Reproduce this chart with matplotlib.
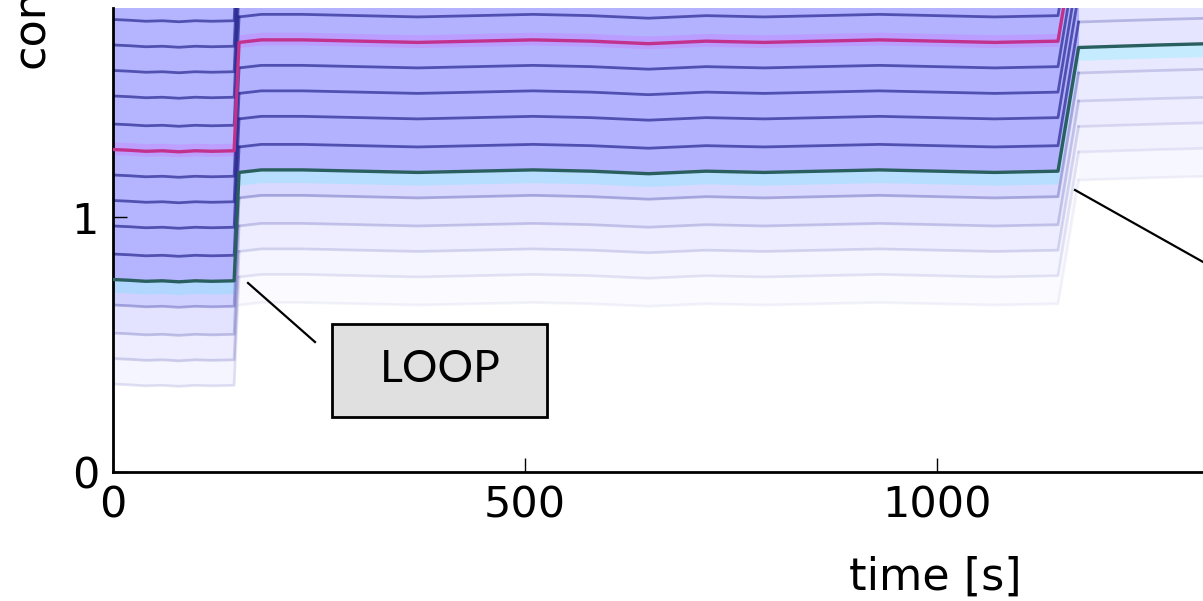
import matplotlib
matplotlib.use("Agg")
import matplotlib.pyplot as plt
from matplotlib.lines import Line2D
from matplotlib.patches import Rectangle
import numpy as np

# time samples [s]
time = [0, 20, 40, 60, 80, 100, 120, 147,
        153, 180, 230, 300, 370, 440, 510, 580, 650, 720, 790, 860, 930, 1000, 1070, 1147,
        1172, 1220, 1270, 1330, 1400]
# highlighted teal trajectory
teal = [0.755, 0.752, 0.748, 0.750, 0.746, 0.750, 0.748, 0.750,
        1.175, 1.185, 1.185, 1.180, 1.175, 1.180, 1.185, 1.180, 1.170, 1.180, 1.175, 1.180, 1.185, 1.180, 1.175, 1.180,
        1.665, 1.670, 1.675, 1.680, 1.680]
# quantile lines relative to the teal one
offsets = [-0.52, -0.41, -0.31, -0.21, -0.10, 0.0, 0.10, 0.21, 0.31, 0.41,
           0.51, 0.61, 0.72, 0.82, 0.92, 1.02, 1.13]
magenta_idx = 10
# segments (index ranges into time) and band / line opacity per segment
segments = [(0, 9), (8, 25), (24, 29)]
band_alpha = [
    [0.0, 0.04, 0.07, 0.11, 0.18, 0.29, 0.29, 0.29, 0.29, 0.29, 0.29, 0.29, 0.29, 0.29, 0.29, 0.29],
    [0.02, 0.04, 0.07, 0.10, 0.15, 0.30, 0.30, 0.30, 0.30, 0.30, 0.30, 0.30, 0.30, 0.30, 0.30, 0.30],
    [0.03, 0.05, 0.07, 0.08, 0.09, 0.10, 0.10, 0.10, 0.10, 0.10, 0.10, 0.10, 0.10, 0.10, 0.10, 0.10],
]
line_alpha = [
    [0.0, 0.12, 0.18, 0.22, 0.3, 1, 0.7, 0.7, 0.7, 0.7, 1, 0.7, 0.7, 0.7, 0.7, 0.7, 0.7],
    [0.05, 0.1, 0.15, 0.2, 0.3, 1, 0.7, 0.7, 0.7, 0.7, 1, 0.7, 0.7, 0.7, 0.7, 0.7, 0.7],
    [0.05, 0.08, 0.12, 0.15, 0.18, 1, 0.25, 0.25, 0.25, 0.25, 1, 0.25, 0.25, 0.25, 0.25, 0.25, 0.25],
]

t = np.array(time, dtype=float)
base = np.array(teal)
lines = [base + o for o in offsets]

fig = plt.figure(figsize=(12.03, 6.01), dpi=100)
ax = fig.add_axes([113 / 1203, 129 / 601, 1 - 113 / 1203, 464 / 601])

for s, (a, b) in enumerate(segments):
    ts = t[a:b]
    for i in range(len(offsets) - 1):
        ax.fill_between(ts, lines[i][a:b], lines[i + 1][a:b], color='blue',
                        alpha=band_alpha[s][i], lw=0)
    for k, ln in enumerate(lines):
        if k in (5, magenta_idx):
            continue
        ax.plot(ts, ln[a:b], color='#262690', lw=2, alpha=line_alpha[s][k])

# bands of the highlighted lines
ax.fill_between(t, lines[5] - 0.05, lines[5], color='cyan', alpha=0.15, lw=0)
ax.fill_between(t, lines[magenta_idx] - 0.02, lines[magenta_idx] + 0.03, color='magenta', alpha=0.12, lw=0)
ax.plot(t, lines[magenta_idx], color='#c2318c', lw=2.4, zorder=5)
ax.plot(t, lines[5], color='#2a5f5f', lw=2.4, zorder=5)

ax.set_xlim(0, 1323)
ax.set_ylim(0, 1.82)
ax.set_xticks([0, 500, 1000])
ax.set_yticks([0, 1])
ax.spines['top'].set_visible(False)
ax.spines['right'].set_visible(False)
ax.spines['left'].set_linewidth(2)
ax.spines['bottom'].set_linewidth(2)
ax.tick_params(direction='in', length=10, width=1, labelsize=31, top=False, right=False)
ax.tick_params(axis='x', pad=9)
ax.tick_params(axis='y', pad=10)

fig.text(935 / 1203, 1 - 590 / 601, 'time [s]', fontsize=32, ha='center', va='baseline')
fig.text(31 / 1203, 1 - 68 / 601, 'concentration', fontsize=32, rotation=90, ha='center', va='bottom')

# LOOP callout
fig.add_artist(Rectangle((332 / 1203, 1 - 417 / 601), 215 / 1203, 93 / 601,
                         transform=fig.transFigure, facecolor='#e0e0e0', edgecolor='black', lw=2))
fig.text(440 / 1203, 1 - 369 / 601, 'LOOP', fontsize=32, family='Lato', ha='center', va='center')
fig.add_artist(Line2D([248 / 1203, 315 / 1203], [1 - 283 / 601, 1 - 342 / 601],
                      transform=fig.transFigure, color='black', lw=1.6))
fig.add_artist(Line2D([1075 / 1203, 1260 / 1203], [1 - 190 / 601, 1 - 294 / 601],
                      transform=fig.transFigure, color='black', lw=1.6))

fig.savefig('out.png', dpi=100)
